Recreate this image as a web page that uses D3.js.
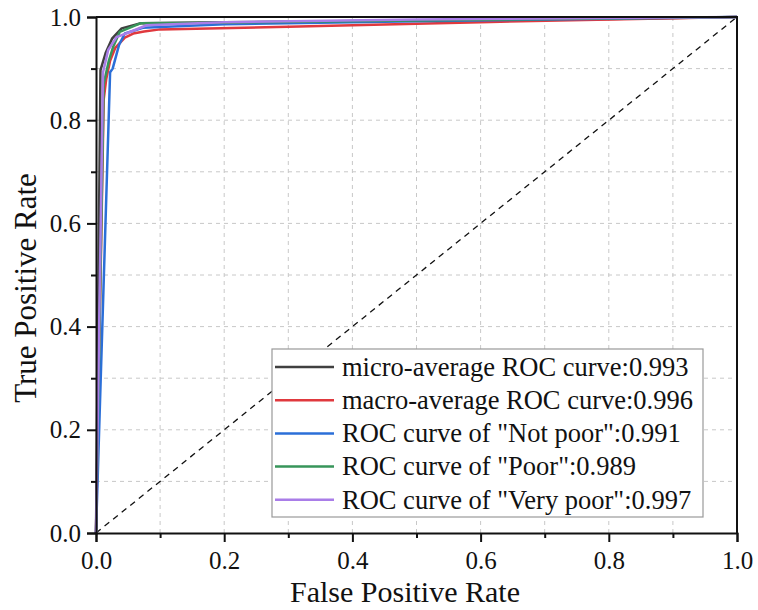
<!DOCTYPE html>
<html>
<head>
<meta charset="utf-8">
<script src="https://cdn.jsdelivr.net/npm/d3@7"></script>
<style>
  body { margin: 0; background: #fff; }
  svg text { font-family: 'Liberation Serif', 'Times New Roman', serif; fill: #111; }
</style>
</head>
<body>
<svg id="chart"></svg>
<script>
// series
const seriesNames = [
  'micro-average ROC curve:0.993',
  'macro-average ROC curve:0.996',
  'ROC curve of "Not poor":0.991',
  'ROC curve of "Poor":0.989',
  'ROC curve of "Very poor":0.997'
]
const seriesColors = ['#404040', '#e0393e', '#2b6fd8', '#37955a', '#a97de8']

const microFpr = [0, 0.007, 0.015, 0.025, 0.04, 0.07, 0.2, 0.5, 0.8, 1]
const microTpr = [0, 0.897, 0.93, 0.958, 0.978, 0.988, 0.99, 0.993, 0.996, 1]

const macroFpr = [0, 0.012, 0.016, 0.022, 0.03, 0.045, 0.058, 0.075, 0.1, 0.3, 0.6, 1]
const macroTpr = [0, 0.84, 0.88, 0.915, 0.94, 0.96, 0.968, 0.972, 0.976, 0.981, 0.99, 1]

const notPoorFpr = [0, 0.022, 0.026, 0.036, 0.045, 0.073, 0.2, 0.5, 1]
const notPoorTpr = [0, 0.893, 0.9, 0.946, 0.968, 0.979, 0.986, 0.992, 1]

const poorFpr = [0, 0.012, 0.02, 0.027, 0.037, 0.07, 0.2, 0.5, 1]
const poorTpr = [0, 0.87, 0.915, 0.943, 0.971, 0.988, 0.989, 0.993, 1]

const veryPoorFpr = [0, 0.011, 0.019, 0.032, 0.053, 0.079, 0.2, 0.5, 1]
const veryPoorTpr = [0, 0.893, 0.936, 0.961, 0.971, 0.984, 0.99, 0.995, 1]

const majorTicks = [0, 0.2, 0.4, 0.6, 0.8, 1.0]
const minorTicks = [0.1, 0.3, 0.5, 0.7, 0.9]
const gridTicks = [0.1, 0.2, 0.3, 0.4, 0.5, 0.6, 0.7, 0.8, 0.9]

const allFpr = [microFpr, macroFpr, notPoorFpr, poorFpr, veryPoorFpr]
const allTpr = [microTpr, macroTpr, notPoorTpr, poorTpr, veryPoorTpr]

const series = seriesNames.map((name, i) => ({
  name,
  color: seriesColors[i],
  points: allFpr[i].map((f, j) => [f, allTpr[i][j]])
}))

const serif = "'Liberation Serif', 'Times New Roman', serif"
const width = 758
const height = 610
const margin = { top: 17, right: 21, bottom: 77, left: 96 }

const svg = d3.select('svg#chart')
  .attr('width', width)
  .attr('height', height)

const x = d3.scaleLinear().domain([0, 1]).range([margin.left, width - margin.right])
const y = d3.scaleLinear().domain([0, 1]).range([height - margin.bottom, margin.top])

// grid
svg.append('g')
  .selectAll('line')
  .data(gridTicks)
  .enter().append('line')
  .attr('x1', d => x(d)).attr('x2', d => x(d))
  .attr('y1', y(0)).attr('y2', y(1))
  .attr('stroke', '#c8c8c8').attr('stroke-width', 1).attr('stroke-dasharray', '4,4')
svg.append('g')
  .selectAll('line')
  .data(gridTicks)
  .enter().append('line')
  .attr('y1', d => y(d)).attr('y2', d => y(d))
  .attr('x1', x(0)).attr('x2', x(1))
  .attr('stroke', '#c8c8c8').attr('stroke-width', 1).attr('stroke-dasharray', '4,4')

// diagonal chance line
svg.append('line')
  .attr('x1', x(0)).attr('y1', y(0))
  .attr('x2', x(1)).attr('y2', y(1))
  .attr('stroke', '#111').attr('stroke-width', 1.3).attr('stroke-dasharray', '6,5')

const line = d3.line().x(d => x(d[0])).y(d => y(d[1]))

svg.append('g')
  .selectAll('path')
  .data(series)
  .enter().append('path')
  .attr('d', d => line(d.points))
  .attr('fill', 'none')
  .attr('stroke', d => d.color)
  .attr('stroke-width', 2.5)
  .attr('stroke-linejoin', 'round')

// axes
svg.append('g')
  .attr('transform', `translate(0,${y(0)})`)
  .call(d3.axisBottom(x).tickValues(majorTicks).tickFormat(d3.format('.1f')).tickSize(9).tickPadding(9))
svg.append('g')
  .attr('transform', `translate(0,${y(0)})`)
  .call(d3.axisBottom(x).tickValues(minorTicks).tickFormat('').tickSize(5))
  .call(g => g.select('.domain').remove())

svg.append('g')
  .attr('transform', `translate(${x(0)},0)`)
  .call(d3.axisLeft(y).tickValues(majorTicks).tickFormat(d3.format('.1f')).tickSize(9).tickPadding(6))
svg.append('g')
  .attr('transform', `translate(${x(0)},0)`)
  .call(d3.axisLeft(y).tickValues(minorTicks).tickFormat('').tickSize(5))
  .call(g => g.select('.domain').remove())

svg.selectAll('.tick line').attr('stroke', '#111').attr('stroke-width', 2)
svg.selectAll('.domain').attr('stroke', '#111').attr('stroke-width', 2)
svg.selectAll('.tick text')
  .attr('font-family', serif)
  .attr('font-size', 25)
  .style('font-family', serif)
  .style('font-size', '25px')
  .attr('fill', '#111')

// top + right frame
svg.append('path')
  .attr('d', `M${x(0)},${y(1)}H${x(1)}V${y(0)}`)
  .attr('fill', 'none').attr('stroke', '#111').attr('stroke-width', 2)

// titles
svg.append('text')
  .attr('x', 405).attr('y', 602)
  .attr('text-anchor', 'middle')
  .style('font-size', '30px')
  .text('False Positive Rate')

svg.append('text')
  .attr('transform', 'translate(36,288) rotate(-90)')
  .attr('text-anchor', 'middle')
  .style('font-size', '31px')
  .text('True Positive Rate')

// legend
const legend = svg.append('g').attr('transform', 'translate(272,349)')
legend.append('rect')
  .attr('width', 431).attr('height', 168)
  .attr('fill', '#fff').attr('stroke', '#999').attr('stroke-width', 1.2)

const rows = legend.selectAll('.row')
  .data(series)
  .enter().append('g')
  .attr('class', 'row')
  .attr('transform', (d, i) => `translate(0,${18 + i * 33.2})`)
rows.append('line')
  .attr('x1', 3).attr('x2', 62)
  .attr('stroke', d => d.color).attr('stroke-width', 2.5)
rows.append('text')
  .attr('x', 70).attr('dy', '0.33em')
  .style('font-size', '26.5px')
  .text(d => d.name)
</script>
</body>
</html>
